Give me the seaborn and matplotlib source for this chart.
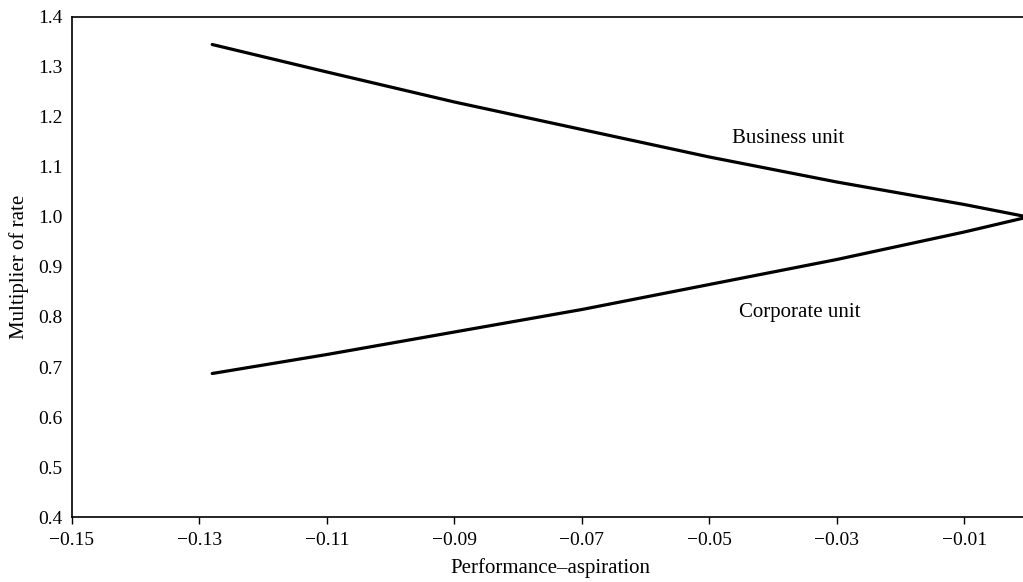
import matplotlib
matplotlib.use("Agg")
import matplotlib.pyplot as plt
import seaborn as sns
import pandas as pd

# Performance minus aspiration (x) and the rate multiplier for each unit type
perf_gap = [-0.128, -0.11, -0.09, -0.07, -0.05, -0.03, -0.01, 0.0]
business_unit = [1.345, 1.29, 1.23, 1.175, 1.12, 1.07, 1.025, 1.0]
corporate_unit = [0.687, 0.725, 0.77, 0.815, 0.865, 0.915, 0.97, 1.0]

x_ticks = [-0.15, -0.13, -0.11, -0.09, -0.07, -0.05, -0.03, -0.01]
y_ticks = [0.4, 0.5, 0.6, 0.7, 0.8, 0.9, 1.0, 1.1, 1.2, 1.3, 1.4]

df = pd.DataFrame({
    "gap": perf_gap * 2,
    "mult": business_unit + corporate_unit,
    "unit": ["Business unit"] * len(perf_gap) + ["Corporate unit"] * len(perf_gap),
})

sns.set_style("white")
plt.rcParams["font.family"] = ["Liberation Serif", "DejaVu Serif"]
plt.rcParams["font.size"] = 14
plt.rcParams["text.color"] = "black"
plt.rcParams["axes.labelcolor"] = "black"
plt.rcParams["xtick.color"] = "black"
plt.rcParams["ytick.color"] = "black"

fig = plt.figure(figsize=(10.23, 5.82), dpi=100)
ax = fig.add_axes([72 / 1023, 1 - 517 / 582, (1028 - 72) / 1023, (517 - 17) / 582])

sns.lineplot(data=df, x="gap", y="mult", units="unit", estimator=None,
             color="black", linewidth=2.3, ax=ax, legend=False)

ax.set_xlim(-0.15, 0.0)
ax.set_ylim(0.4, 1.4)
ax.set_xticks(x_ticks)
ax.set_xticklabels([f"\u2212{abs(t):.2f}" for t in x_ticks], fontsize=14)
ax.set_yticks(y_ticks)
ax.set_yticklabels([f"{t:.1f}" for t in y_ticks], fontsize=14)
ax.tick_params(axis="x", direction="out", length=5, width=1, bottom=True, pad=6)
ax.tick_params(axis="y", length=0, left=False, pad=7)

for side in ["left", "bottom", "top"]:
    ax.spines[side].set_visible(True)
    ax.spines[side].set_color("black")
    ax.spines[side].set_linewidth(1.2)
ax.spines["right"].set_visible(False)

ax.text(-0.0376, 1.157, "Business unit", ha="center", va="center", fontsize=15)
ax.text(-0.0358, 0.809, "Corporate unit", ha="center", va="center", fontsize=15)

ax.set_xlabel("Performance\u2013aspiration", fontsize=15, labelpad=6)
ax.set_ylabel("Multiplier of rate", fontsize=15, labelpad=6)

fig.savefig("out.png", dpi=100)
